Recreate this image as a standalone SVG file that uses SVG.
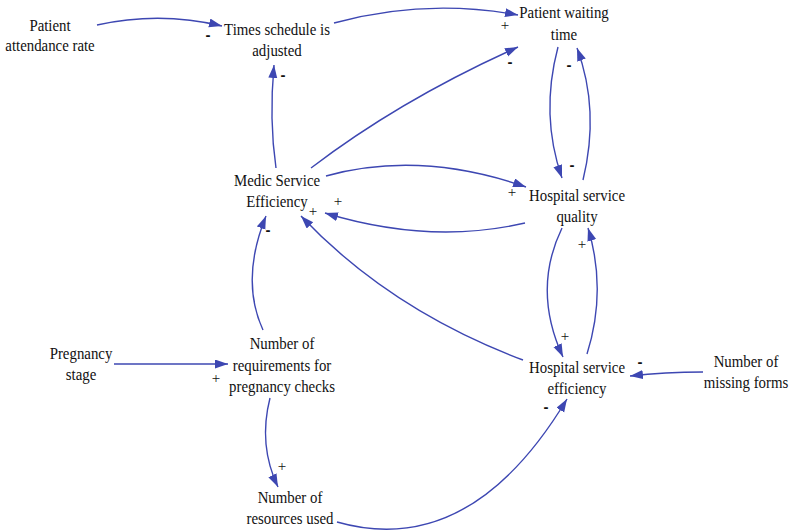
<svg xmlns="http://www.w3.org/2000/svg" width="792" height="530" viewBox="0 0 792 530">
  <style>
    .lbl { font-family: "Liberation Serif", "Times New Roman", "DejaVu Serif", serif; font-size: 16.5px; fill: #111; text-anchor: middle; }
    .sign { font-family: "Liberation Serif", "Times New Roman", "DejaVu Serif", serif; font-size: 15px; fill: #111; text-anchor: middle; }
    .minus { font-family: "Liberation Sans", Arial, sans-serif; font-size: 15px; font-weight: bold; fill: #111; text-anchor: middle; }
    .link { fill: none; stroke: #3d47b2; stroke-width: 1.4; marker-end: url(#arrow); }
  </style>
  <defs>
    <marker id="arrow" markerUnits="userSpaceOnUse" markerWidth="14" markerHeight="10" refX="13" refY="4.5" orient="auto">
      <path d="M0,0 L13,4.5 L0,9 Z" fill="#3d47b2"/>
    </marker>
  </defs>
  <rect width="792" height="530" fill="#ffffff"/>

  <!-- variables -->
  <g id="patient-attendance-rate" transform="translate(50,0)">
    <text class="lbl" transform="scale(0.9 1)"><tspan x="0" y="31">Patient</tspan><tspan x="0" y="51">attendance rate</tspan></text>
  </g>
  <g id="times-schedule-adjusted" transform="translate(277,0)">
    <text class="lbl" transform="scale(0.9 1)"><tspan x="0" y="35">Times schedule is</tspan><tspan x="0" y="56">adjusted</tspan></text>
  </g>
  <g id="patient-waiting-time" transform="translate(564,0)">
    <text class="lbl" transform="scale(0.9 1)"><tspan x="0" y="18">Patient waiting</tspan><tspan x="0" y="40">time</tspan></text>
  </g>
  <g id="medic-service-efficiency" transform="translate(277,0)">
    <text class="lbl" transform="scale(0.9 1)"><tspan x="0" y="186">Medic Service</tspan><tspan x="0" y="207">Efficiency</tspan></text>
  </g>
  <g id="hospital-service-quality" transform="translate(577,0)">
    <text class="lbl" transform="scale(0.9 1)"><tspan x="0" y="201">Hospital service</tspan><tspan x="0" y="222">quality</tspan></text>
  </g>
  <g id="hospital-service-efficiency" transform="translate(577,0)">
    <text class="lbl" transform="scale(0.9 1)"><tspan x="0" y="373">Hospital service</tspan><tspan x="0" y="394">efficiency</tspan></text>
  </g>
  <g id="number-missing-forms" transform="translate(746,0)">
    <text class="lbl" transform="scale(0.9 1)"><tspan x="0" y="367">Number of</tspan><tspan x="0" y="388">missing forms</tspan></text>
  </g>
  <g id="pregnancy-stage" transform="translate(81,0)">
    <text class="lbl" transform="scale(0.9 1)"><tspan x="0" y="359">Pregnancy</tspan><tspan x="0" y="380">stage</tspan></text>
  </g>
  <g id="number-requirements" transform="translate(282,0)">
    <text class="lbl" transform="scale(0.9 1)"><tspan x="0" y="349">Number of</tspan><tspan x="0" y="371">requirements for</tspan><tspan x="0" y="392">pregnancy checks</tspan></text>
  </g>
  <g id="number-resources-used" transform="translate(290,0)">
    <text class="lbl" transform="scale(0.9 1)"><tspan x="0" y="503">Number of</tspan><tspan x="0" y="524">resources used</tspan></text>
  </g>

  <!-- causal links -->
  <g id="connectors">
    <path class="link" d="M97,25 Q160,11 222,26"/>
    <path class="link" d="M276,168 Q269,120 274,65"/>
    <path class="link" d="M334,23 Q425,-2 518,15"/>
    <path class="link" d="M311,168 Q400,100 518,47"/>
    <path class="link" d="M558,47 Q540,115 562,178"/>
    <path class="link" d="M583,180 Q600,110 577,48"/>
    <path class="link" d="M326,176 Q420,150 526,187"/>
    <path class="link" d="M525,223 Q430,245 325,213"/>
    <path class="link" d="M523,360 Q390,310 301,216"/>
    <path class="link" d="M562,228 Q532,290 563,357"/>
    <path class="link" d="M587,354 Q607,290 588,228"/>
    <path class="link" d="M703,372 Q665,372 630,376"/>
    <path class="link" d="M114,364 L228,364"/>
    <path class="link" d="M263,330 Q240,280 266,216"/>
    <path class="link" d="M270,398 Q258,445 278,487"/>
    <path class="link" d="M337,522 Q470,560 567,399"/>
  </g>

  <!-- link polarities -->
  <g id="polarities">
    <text class="minus" x="208" y="40">-</text>
    <text class="minus" x="283" y="80">-</text>
    <text class="sign" x="505" y="30">+</text>
    <text class="minus" x="510" y="67">-</text>
    <text class="minus" x="572" y="170">-</text>
    <text class="minus" x="569" y="70">-</text>
    <text class="sign" x="512" y="197">+</text>
    <text class="sign" x="338" y="206">+</text>
    <text class="sign" x="313" y="216">+</text>
    <text class="sign" x="565" y="341">+</text>
    <text class="sign" x="582" y="249">+</text>
    <text class="minus" x="640" y="367">-</text>
    <text class="sign" x="216" y="383">+</text>
    <text class="minus" x="268" y="235">-</text>
    <text class="sign" x="282" y="471">+</text>
    <text class="minus" x="546" y="412">-</text>
  </g>
</svg>
